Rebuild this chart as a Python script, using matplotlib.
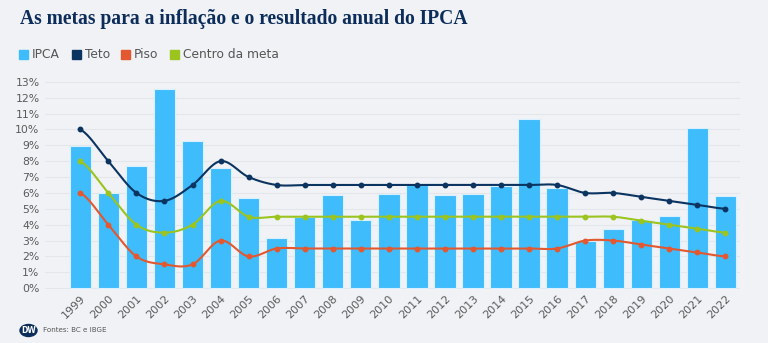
import numpy as np
import matplotlib
matplotlib.use("Agg")
import matplotlib.pyplot as plt
from matplotlib.patches import Rectangle, Ellipse

years = [str(y) for y in range(1999, 2023)]
ipca = [8.94, 5.97, 7.67, 12.53, 9.30, 7.60, 5.69, 3.14, 4.46, 5.90, 4.31, 5.91,
        6.50, 5.84, 5.91, 6.41, 10.67, 6.29, 2.95, 3.75, 4.31, 4.52, 10.06, 5.79]
teto = [10, 8, 6, 5.5, 6.5, 8, 7, 6.5, 6.5, 6.5, 6.5, 6.5, 6.5, 6.5, 6.5, 6.5,
        6.5, 6.5, 6, 6, 5.75, 5.5, 5.25, 5.0]
piso = [6, 4, 2, 1.5, 1.5, 3, 2, 2.5, 2.5, 2.5, 2.5, 2.5, 2.5, 2.5, 2.5, 2.5,
        2.5, 2.5, 3, 3, 2.75, 2.5, 2.25, 2.0]
centro = [8, 6, 4, 3.5, 4, 5.5, 4.5, 4.5, 4.5, 4.5, 4.5, 4.5, 4.5, 4.5, 4.5, 4.5,
          4.5, 4.5, 4.5, 4.5, 4.25, 4.0, 3.75, 3.5]
yticks = list(range(0, 14))
series_names = ["IPCA", "Teto", "Piso", "Centro da meta"]

BG = "#f0f2f5"
C_IPCA = "#3ebcfb"
C_TETO = "#0c3461"
C_PISO = "#e3582e"
C_CENTRO = "#9bc41e"

W, H = 768, 343
fig = plt.figure(figsize=(W / 100, H / 100), dpi=100, facecolor=BG)


def px(x0, y0, x1, y1):
    return [x0 / W, 1 - y1 / H, (x1 - x0) / W, (y1 - y0) / H]


ax = fig.add_axes(px(45, 77, 740, 289))
ax.set_facecolor(BG)
x = np.arange(len(years))
ax.bar(x, ipca, width=0.76, color=C_IPCA, edgecolor="#d8f0ff", linewidth=0.8, zorder=2)


def smooth(xs, ys, n=20, t=0.5):
    xs = np.asarray(xs, float)
    ys = np.asarray(ys, float)
    out_x, out_y = [], []
    for i in range(len(xs) - 1):
        p0 = ys[i - 1] if i > 0 else ys[i]
        p1, p2 = ys[i], ys[i + 1]
        p3 = ys[i + 2] if i + 2 < len(ys) else ys[i + 1]
        m1 = t * (p2 - p0)
        m2 = t * (p3 - p1)
        s = np.linspace(0, 1, n, endpoint=False)
        h00 = 2 * s**3 - 3 * s**2 + 1
        h10 = s**3 - 2 * s**2 + s
        h01 = -2 * s**3 + 3 * s**2
        h11 = s**3 - s**2
        out_x.extend(xs[i] + s * (xs[i + 1] - xs[i]))
        out_y.extend(h00 * p1 + h10 * m1 + h01 * p2 + h11 * m2)
    out_x.append(xs[-1])
    out_y.append(ys[-1])
    return np.array(out_x), np.array(out_y)


for vals, col in [(centro, C_CENTRO), (piso, C_PISO), (teto, C_TETO)]:
    sx, sy = smooth(x, vals)
    ax.plot(sx, sy, color=col, lw=1.5, zorder=3, solid_capstyle="round")
    ax.plot(x, vals, "o", color=col, ms=3.2, zorder=4)

ax.set_xlim(-1.26, 23.52)
ax.set_ylim(-0.05, 13.3)
ax.set_yticks(yticks)
ax.set_yticklabels([f"{v}%" for v in yticks], fontsize=7.8, color="#5a5a5a")
ax.set_xticks(x)
ax.set_xticklabels(years, rotation=45, ha="right", rotation_mode="anchor",
                   fontsize=8, color="#5a5a5a")
ax.tick_params(axis="both", length=0, pad=3)
ax.tick_params(axis="y", pad=4)
ax.grid(axis="y", color="#e3e6ea", lw=0.8, zorder=0)
for s in ax.spines.values():
    s.set_visible(False)

fig.text(20 / W, 1 - 19 / H, "As metas para a inflação e o resultado anual do IPCA",
         fontsize=14.1, fontweight="bold", family="Liberation Serif", color="#0c2d5a",
         va="center", ha="left")

colors = [C_IPCA, C_TETO, C_PISO, C_CENTRO]
text_x = [32, 85, 134, 183]
sq_x = [19, 72, 121, 170]
for name, col, tx, sxp in zip(series_names, colors, text_x, sq_x):
    fig.patches.append(Rectangle((sxp / W, 1 - 59 / H), 9 / W, 9 / H,
                                 transform=fig.transFigure, color=col))
    fig.text(tx / W, 1 - 54.5 / H, name, fontsize=8.8, color="#555555",
             va="center", ha="left")

fig.patches.append(Ellipse((28.5 / W, 1 - 330.5 / H), 17 / W, 12 / H,
                           transform=fig.transFigure, color="#0c2d5a"))
fig.text(28.5 / W, 1 - 330.5 / H, "DW", fontsize=5.5, color="white", fontweight="bold",
         ha="center", va="center")
fig.text(43 / W, 1 - 330.5 / H, "Fontes: BC e IBGE", fontsize=5.1, color="#555555",
         ha="left", va="center")

fig.savefig("out.png", dpi=100, facecolor=BG)
